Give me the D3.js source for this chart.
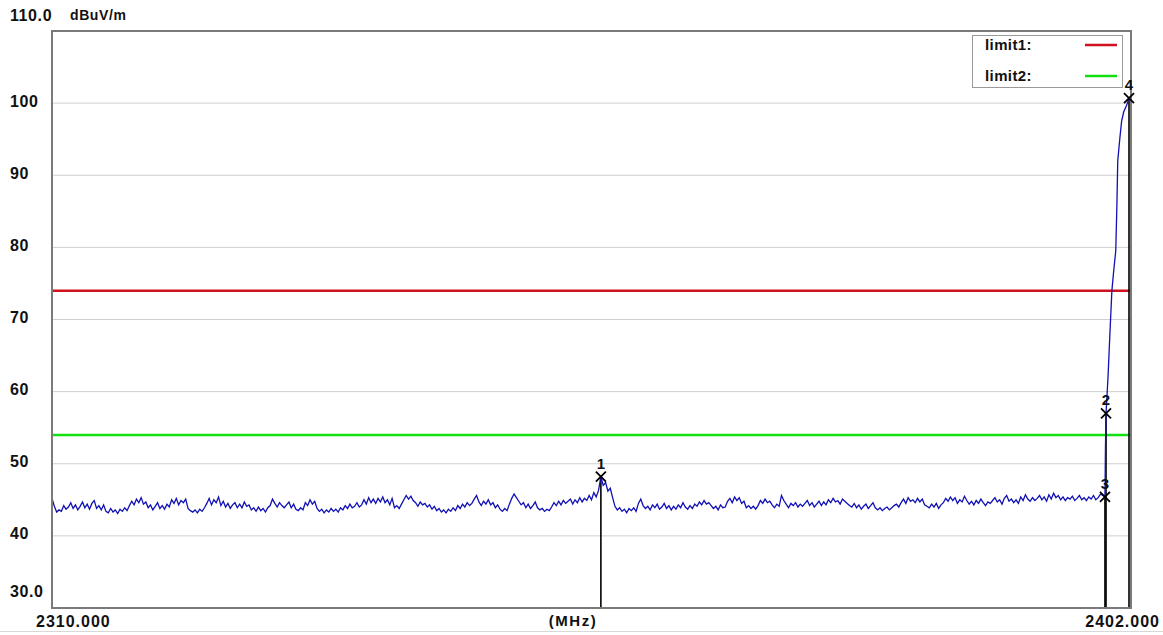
<!DOCTYPE html>
<html><head><meta charset="utf-8">
<script src="https://cdn.jsdelivr.net/npm/d3@7/dist/d3.min.js"></script>
<style>body{margin:0;background:#fff}svg{display:block}text{font-family:"Liberation Sans",Arial,sans-serif;font-weight:bold;fill:#111}</style>
</head><body><svg id="c" width="1163" height="635"></svg>
<script>
// ---- data ----
const freqStart = 2310, freqEnd = 2402, freqStep = 0.2;
const levelMin = 30, levelMax = 110;
const yTickValues = [30,40,50,60,70,80,90,100,110];
const yTickLabels = ["30.0","40","50","60","70","80","90","100","110.0"];
const xTickLabels = ["2310.000","(MHz)","2402.000"];
const unitLabel = "dBuV/m";
// noise floor trace, 2310.0 .. 2399.6 MHz in 0.2 MHz steps (dBuV/m)
const traceLevels = [
45.2,44.1,43.3,43.6,43.4,44.2,43.7,44.0,44.6,43.8,44.3,43.6,44.1,44.7,43.9,44.4,43.7,44.5,44.9,43.8,
44.2,43.6,44.3,43.4,43.2,43.8,43.3,43.6,43.1,43.7,43.4,43.9,43.5,44.2,44.8,44.3,45.1,44.6,45.3,44.4,
44.7,43.9,44.3,43.6,44.1,44.6,43.8,44.2,43.7,44.4,44.0,45.0,44.5,45.2,44.3,44.9,44.6,45.1,43.8,43.5,
43.3,43.6,43.2,43.7,43.4,43.9,44.5,45.2,44.3,45.0,44.6,45.4,44.2,44.8,44.0,44.5,43.8,44.3,44.6,43.9,
44.4,43.9,44.7,44.1,44.3,43.6,43.9,43.4,44.0,43.5,43.8,43.3,43.9,44.2,45.1,44.5,44.0,44.6,44.2,43.9,
44.3,44.7,43.9,44.4,43.7,43.5,43.9,43.6,44.6,44.2,45.0,44.4,44.8,43.8,43.4,43.7,43.2,43.6,43.3,43.8,
43.4,43.7,43.3,43.9,43.6,44.2,43.8,44.4,43.9,44.1,44.6,44.0,44.3,45.0,44.4,45.3,44.6,45.1,44.5,45.2,
44.7,45.4,44.6,45.0,44.3,45.2,43.9,44.2,43.8,44.4,45.0,45.6,45.1,45.5,44.9,44.6,44.1,44.7,44.3,44.5,
44.0,44.3,43.7,44.1,43.5,43.8,43.3,43.6,43.2,43.7,43.4,43.9,43.5,44.2,43.8,44.4,44.0,44.6,44.2,44.5,
45.1,45.6,44.7,44.2,44.8,44.4,45.0,44.3,44.6,43.9,44.3,43.7,43.4,43.8,43.5,44.4,45.2,45.8,45.3,44.8,
44.3,44.6,43.9,44.4,43.8,44.2,44.7,43.9,43.6,43.8,43.4,43.7,43.5,44.0,44.6,44.2,44.8,44.3,44.9,44.5,
44.8,45.1,44.4,45.0,44.6,45.3,44.7,45.2,44.9,45.6,45.0,46.0,45.4,46.3,48.2,47.0,47.4,46.2,46.6,45.3,
44.1,43.6,43.9,43.4,43.7,43.2,43.8,43.5,43.9,43.4,44.5,45.1,44.2,43.8,44.1,43.6,44.3,43.9,44.4,43.7,
44.0,44.5,43.8,44.2,43.6,44.1,43.7,44.3,43.9,44.6,44.0,43.7,44.2,43.8,44.4,44.1,44.7,44.3,44.9,44.4,
44.6,44.2,43.8,44.1,43.6,44.3,43.9,44.0,44.8,45.2,44.6,45.4,44.9,45.3,44.5,44.8,43.9,44.2,43.8,44.1,
43.7,44.2,44.9,44.5,45.1,44.6,44.8,44.3,43.9,44.4,44.1,45.6,44.9,44.4,43.9,44.5,44.2,44.6,44.0,44.4,
44.1,44.5,44.9,44.2,44.6,44.0,44.4,44.8,44.2,44.7,44.3,45.0,44.6,45.2,44.7,44.9,44.4,45.1,44.8,44.5,
44.2,44.0,44.5,43.9,44.3,43.7,44.1,44.4,43.8,44.2,44.6,43.9,43.6,43.9,43.5,43.8,44.0,43.6,43.9,44.2,
44.4,44.0,44.6,45.1,44.5,45.3,44.8,45.0,44.6,45.2,44.7,45.1,44.3,44.1,43.9,44.4,44.0,44.5,43.8,44.3,
44.6,45.2,44.8,45.4,44.9,45.3,44.5,45.0,44.7,45.5,44.9,44.4,44.8,44.3,44.9,44.5,45.1,44.6,44.2,44.7,
44.5,44.9,45.3,44.7,45.0,44.4,45.2,45.6,44.8,45.1,44.6,45.0,44.5,45.4,44.9,45.7,45.1,44.8,45.3,44.9,
45.2,45.6,45.0,45.4,44.8,45.7,45.1,45.9,45.3,45.6,45.0,45.4,44.9,45.3,45.1,45.5,44.9,45.2,45.6,45.0,
45.3,44.9,45.4,45.1,45.6,45.0,45.3,45.8,45.6
];
// carrier edge (rising part)
const edgeFreqs  = [2399.78,2399.82,2399.87,2400.04,2400.20,2400.37,2400.54,2400.70,2400.80,2400.87,2401.04,2401.20,2401.38,2401.63,2401.83];
const edgeLevels = [45.4,52.0,57.0,62.0,68.0,74.0,77.0,79.5,86.0,92.0,95.0,97.5,98.8,99.7,100.7];
// markers
const markerIds    = ["1","2","3","4"];
const markerFreqs  = [2356.8,2399.87,2399.78,2401.83];
const markerLevels = [48.2,57.0,45.4,100.7];
// limits
const limitNames  = ["limit1:","limit2:"];
const limitLevels = [74,54];
const limitColors = ["#d0101c","#10e010"];

// ---- chart ----
const svg = d3.select("#c");
const L = 52, R = 1131, T = 31, B = 608;
const x = d3.scaleLinear().domain([freqStart,freqEnd]).range([L,R]);
const y = d3.scaleLinear().domain([levelMin,levelMax]).range([B,T]);

// gridlines
svg.append("g").selectAll("line").data(yTickValues.filter(v=>v>levelMin&&v<levelMax)).join("line")
  .attr("x1",L).attr("x2",R).attr("y1",d=>y(d)).attr("y2",d=>y(d))
  .attr("stroke","#cfcfcf").attr("stroke-width",1);

// limit lines
svg.append("g").selectAll("line").data(limitLevels).join("line")
  .attr("x1",L).attr("x2",R).attr("y1",d=>y(d)).attr("y2",d=>y(d))
  .attr("stroke",(d,i)=>limitColors[i]).attr("stroke-width",2.5);

// marker vertical lines
svg.append("g").selectAll("line").data(markerFreqs).join("line")
  .attr("x1",d=>x(d)).attr("x2",d=>x(d))
  .attr("y1",(d,i)=>y(markerLevels[i])).attr("y2",B)
  .attr("stroke","#000").attr("stroke-width",1.6);

// trace
const pts = traceLevels.map((v,i)=>[freqStart+i*freqStep, v]).concat(edgeFreqs.map((f,i)=>[f,edgeLevels[i]]));
svg.append("path").datum(pts)
  .attr("d", d3.line().x(d=>x(d[0])).y(d=>y(d[1])))
  .attr("fill","none").attr("stroke","#1010b4").attr("stroke-width",1.3);

// frame
svg.append("rect").attr("x",L).attr("y",T).attr("width",R-L).attr("height",B-T)
  .attr("fill","none").attr("stroke","#7a7a7a").attr("stroke-width",2);

// markers X and labels
const mg = svg.append("g").selectAll("g").data(markerIds).join("g")
  .attr("transform",(d,i)=>`translate(${x(markerFreqs[i])},${y(markerLevels[i])})`);
mg.append("path").attr("d","M-5,-5L5,5M-5,5L5,-5").attr("stroke","#000").attr("stroke-width",1.8);
mg.append("text").attr("y",-8).attr("text-anchor","middle").attr("font-size",15).text(d=>d);

// y labels
svg.append("g").selectAll("text").data(yTickValues).join("text")
  .attr("x",10)
  .attr("y",(d,i)=> d===levelMax ? 15 : d===levelMin ? y(d)-17 : y(d)-2)
  .attr("dy","0.35em").attr("font-size",16).attr("letter-spacing",0.6).text((d,i)=>yTickLabels[i]);
svg.append("text").attr("x",70).attr("y",15).attr("dy","0.35em").attr("font-size",14).attr("letter-spacing",0.6).text(unitLabel);

// x labels
const xl = svg.append("g");
xl.append("text").attr("x",36).attr("y",621).attr("dy","0.35em").attr("font-size",16).attr("letter-spacing",1).text(xTickLabels[0]);
xl.append("text").attr("x",573).attr("y",621).attr("dy","0.35em").attr("text-anchor","middle").attr("font-size",15).attr("letter-spacing",1.5).text(xTickLabels[1]);
xl.append("text").attr("x",1160).attr("y",621).attr("dy","0.35em").attr("text-anchor","end").attr("font-size",16).attr("letter-spacing",1).text(xTickLabels[2]);

// bottom page line
svg.append("line").attr("x1",0).attr("x2",1163).attr("y1",631.5).attr("y2",631.5).attr("stroke","#d8d8d8");

// legend
const lg = svg.append("g");
lg.append("rect").attr("x",972.5).attr("y",35.5).attr("width",150).attr("height",52)
  .attr("fill","#fff").attr("stroke","#9a9a9a");
const li = lg.selectAll("g").data(limitNames).join("g").attr("transform",(d,i)=>`translate(0,${45+i*31})`);
li.append("text").attr("x",985).attr("dy","0.35em").attr("font-size",15).attr("letter-spacing",0.4).text(d=>d);
li.append("line").attr("x1",1085).attr("x2",1117).attr("stroke",(d,i)=>limitColors[i]).attr("stroke-width",2.5);
</script></body></html>
